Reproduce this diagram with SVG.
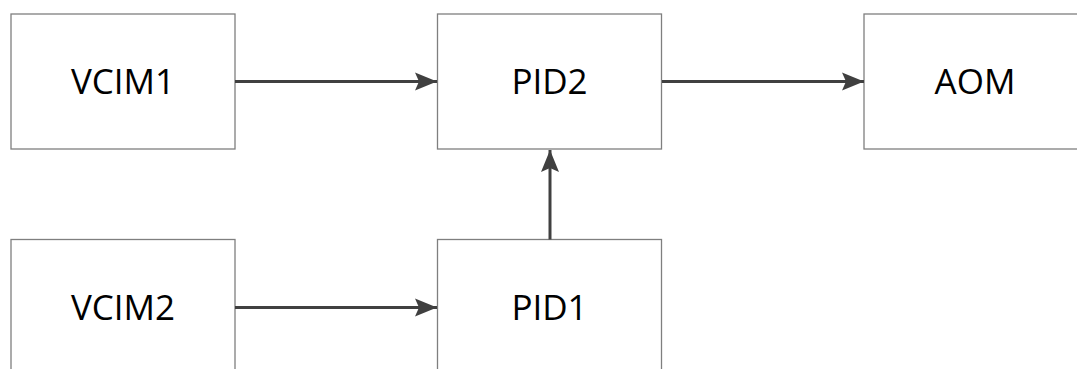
<svg xmlns="http://www.w3.org/2000/svg" width="1077" height="369" viewBox="0 0 1077 369">
  <style>
    .box { fill: #ffffff; stroke: #7f7f7f; stroke-width: 1.3; }
    .label { font-family: "Open Sans", "Liberation Sans", sans-serif; font-size: 35px; fill: #000000; text-anchor: middle; }
    .wire { stroke: #404040; stroke-width: 3; fill: none; }
  </style>
  <defs>
    <marker id="arrow" viewBox="0 0 22 20" refX="22" refY="10" markerWidth="22" markerHeight="20" markerUnits="userSpaceOnUse" orient="auto">
      <path d="M0,1 L22,10 L0,19 L4,10 Z" fill="#404040"/>
    </marker>
  </defs>
  <rect width="1077" height="369" fill="#ffffff"/>

  <g id="VCIM1">
    <rect class="box" x="11" y="14" width="224" height="135"/>
    <text class="label" x="123" y="94">VCIM1</text>
  </g>
  <g id="PID2">
    <rect class="box" x="437.5" y="14" width="224" height="135"/>
    <text class="label" x="549.5" y="94">PID2</text>
  </g>
  <g id="AOM">
    <rect class="box" x="864" y="14" width="224" height="135"/>
    <text class="label" x="975" y="94">AOM</text>
  </g>
  <g id="VCIM2">
    <rect class="box" x="11" y="239.5" width="224" height="135"/>
    <text class="label" x="123" y="320">VCIM2</text>
  </g>
  <g id="PID1">
    <rect class="box" x="437.5" y="239.5" width="224" height="135"/>
    <text class="label" x="549.5" y="320">PID1</text>
  </g>

  <g id="connectors">
    <line class="wire" x1="235" y1="81.5" x2="437" y2="81.5" marker-end="url(#arrow)"/>
    <line class="wire" x1="662" y1="81.5" x2="864" y2="81.5" marker-end="url(#arrow)"/>
    <line class="wire" x1="235" y1="307.5" x2="437" y2="307.5" marker-end="url(#arrow)"/>
    <line class="wire" x1="550" y1="239.5" x2="550" y2="150" marker-end="url(#arrow)"/>
  </g>
</svg>
